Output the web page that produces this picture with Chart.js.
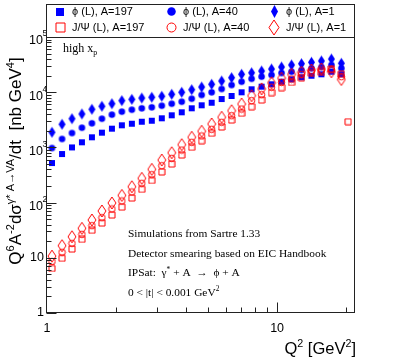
<!DOCTYPE html>
<html>
<head>
<meta charset="utf-8">
<script src="https://cdn.jsdelivr.net/npm/chart.js@4.4.0/dist/chart.umd.min.js"></script>
<style>html,body{margin:0;padding:0;background:#fff}</style>
</head>
<body>
<canvas id="plot" width="395" height="357"></canvas>
<script>
// Q^2 bin centres (log bins), last entry is the lone J/Psi A=197 point
const q2 = [1.051, 1.162, 1.284, 1.418, 1.567, 1.732, 1.914, 2.115, 2.337, 2.582,
            2.853, 3.153, 3.484, 3.850, 4.254, 4.701, 5.195, 5.740, 6.343, 7.009,
            7.745, 8.559, 9.457, 10.45, 11.55, 12.76, 14.10, 15.58, 17.22, 19.02, 20.35];

const phiA197 = [521, 759, 1000, 1237, 1524, 1848, 2183, 2513, 2686, 2922,
                 3047, 3365, 3815, 4325, 5110, 5790, 6450, 7530, 8540, 9960,
                 11300, 12600, 13900, 15500, 17100, 18600, 19900, 21100, 23500, 21100];
const phiA40  = [975, 1420, 1822, 2275, 2735, 3310, 3920, 4440, 4820, 5110,
                 5325, 5690, 6190, 6730, 7620, 8900, 9960, 11430, 13500, 15500,
                 17500, 19100, 20500, 22300, 23500, 25200, 27100, 28600, 31100, 27100];
const phiA1   = [1877, 2620, 3310, 4030, 4900, 5555, 6190, 7020, 7430, 7850,
                 8080, 8430, 9160, 9960, 11100, 12400, 13900, 15950, 18300, 21100,
                 22500, 24200, 26300, 28600, 31100, 32800, 34800, 36800, 39900, 33400];
const jpsiA197 = [6.4, 9.8, 14.4, 21.6, 31.5, 42.7, 59.6, 83, 121, 174,
                  252, 360, 500, 728, 1004, 1322, 1800, 2342, 3136, 4150,
                  5460, 7220, 9800, 12100, 15000, 18300, 22000, 22900, 26500, 21100, 2920];
const jpsiA40  = [8.6, 12.6, 18.3, 26.6, 38.2, 53.2, 76.6, 107, 156, 224,
                  320, 466, 634, 897, 1237, 1610, 2128, 2850, 3750, 4960,
                  7020, 9000, 12350, 15100, 17300, 21100, 24500, 25200, 25500, 19100];
const jpsiA1   = [10.7, 16.6, 24.1, 34.2, 48.4, 70.5, 98.4, 135, 194, 275,
                  400, 591, 802, 1120, 1524, 1958, 2655, 3510, 4620, 6110,
                  8650, 11500, 14800, 17900, 21000, 22900, 25200, 26300, 23500, 17000];

const xTicks = [1, 10];
const yExps = [0, 1, 2, 3, 4, 5];

const SANS = '"Liberation Sans", Arial, sans-serif';
const SERIF = '"Liberation Serif", "Times New Roman", serif';
const blue = '#0000ff', red = '#ff0000';

function marker(shape, filled, color, w, h) {
  const c = document.createElement('canvas');
  c.width = Math.ceil(w) + 2; c.height = Math.ceil(h) + 2;
  const g = c.getContext('2d');
  g.fillStyle = color; g.strokeStyle = color; g.lineWidth = 1;
  const cx = c.width / 2, cy = c.height / 2;
  g.beginPath();
  if (shape === 'square') g.rect(cx - w / 2, cy - h / 2, w, h);
  else if (shape === 'circle') g.arc(cx, cy, w / 2, 0, Math.PI * 2);
  else {
    g.moveTo(cx, cy - h / 2); g.lineTo(cx + w / 2, cy);
    g.lineTo(cx, cy + h / 2); g.lineTo(cx - w / 2, cy); g.closePath();
  }
  if (filled) g.fill(); else g.stroke();
  return c;
}

const series = [
  { label: 'ϕ (L), A=197',   data: phiA197,  color: blue, shape: 'square',  filled: true,  size: [6, 6],   leg: [8, 8] },
  { label: 'ϕ (L), A=40',    data: phiA40,   color: blue, shape: 'circle',  filled: true,  size: [6.5, 6.5], leg: [8.5, 8.5] },
  { label: 'ϕ (L), A=1',     data: phiA1,    color: blue, shape: 'diamond', filled: true,  size: [7, 11],  leg: [7, 13] },
  { label: 'J/Ψ (L), A=197', data: jpsiA197, color: red,  shape: 'square',  filled: false, size: [6, 6],   leg: [9, 9] },
  { label: 'J/Ψ (L), A=40',  data: jpsiA40,  color: red,  shape: 'circle',  filled: false, size: [6.5, 6.5], leg: [9, 9] },
  { label: 'J/Ψ (L), A=1',   data: jpsiA1,   color: red,  shape: 'diamond', filled: false, size: [8, 12],  leg: [10, 15] }
];

const datasets = series.map((s, i) => ({
  label: s.label,
  data: s.data.map((v, k) => ({ x: q2[k], y: v })),
  pointStyle: marker(s.shape, s.filled, s.color, s.size[0], s.size[1]),
  order: series.length - i,
  showLine: false
}));

function drawRich(ctx, parts, x, y, size, family, align) {
  const widths = parts.map(p => {
    ctx.font = (p[1] ? size * 0.65 : size) + 'px ' + family;
    return ctx.measureText(p[0]).width;
  });
  const total = widths.reduce((a, b) => a + b, 0);
  let cx = align === 'center' ? x - total / 2 : align === 'right' ? x - total : x;
  ctx.textAlign = 'left';
  parts.forEach((p, i) => {
    ctx.font = (p[1] ? size * 0.65 : size) + 'px ' + family;
    const dy = p[1] === 1 ? -size * 0.42 : p[1] === -1 ? size * 0.25 : 0;
    ctx.fillText(p[0], cx, y + dy);
    cx += widths[i];
  });
}

const rootAxes = {
  id: 'rootAxes',
  afterDraw(chart) {
    const ctx = chart.ctx, a = chart.chartArea;
    const xs = chart.scales.x, ys = chart.scales.y;
    ctx.save();
    ctx.strokeStyle = '#222'; ctx.lineWidth = 1;
    const L = Math.round(a.left) - 0.5, R = Math.round(a.right) - 0.5;
    const T = Math.round(a.top) + 0.5, B = Math.round(a.bottom) - 0.5;
    ctx.strokeRect(L, T, R - L, B - T);

    // ticks, drawn inside the frame
    ctx.beginPath();
    for (const v of [2, 3, 4, 5, 6, 7, 8, 9, 10, 20]) {
      const px = Math.round(xs.getPixelForValue(v)) + 0.5;
      ctx.moveTo(px, B); ctx.lineTo(px, B - (v === 10 ? 10 : 5));
    }
    for (let e = 0; e < 5; e++) {
      for (let m = 1; m <= 9; m++) {
        const py = Math.round(ys.getPixelForValue(m * Math.pow(10, e))) + 0.5;
        ctx.moveTo(L, py); ctx.lineTo(L + (m === 1 ? 10 : 5), py);
      }
    }
    ctx.stroke();

    // tick labels
    ctx.fillStyle = '#000';
    ctx.textBaseline = 'middle';
    ctx.font = '12.5px ' + SANS; ctx.textAlign = 'center';
    xTicks.forEach(v => ctx.fillText(String(v), xs.getPixelForValue(v), 329));
    yExps.forEach(e => {
      const py = ys.getPixelForValue(Math.pow(10, e));
      ctx.font = '12.5px ' + SANS;
      if (e === 0) { ctx.textAlign = 'right'; ctx.fillText('1', 44, py); }
      else if (e === 1) { ctx.textAlign = 'right'; ctx.fillText('10', 44, py); }
      else {
        ctx.textAlign = 'right'; ctx.fillText('10', 43, py + 4);
        ctx.font = '8.5px ' + SANS; ctx.textAlign = 'left';
        ctx.fillText(String(e), 42.5, py - 3);
      }
    });

    // axis titles
    ctx.textBaseline = 'alphabetic';
    drawRich(ctx, [['Q', 0], ['2', 1], [' [GeV', 0], ['2', 1], [']', 0]], 356, 354, 16.5, SANS, 'right');
    ctx.save();
    ctx.translate(21, 161); ctx.rotate(-Math.PI / 2);
    drawRich(ctx, [['Q', 0], ['6', 1], ['A', 0], ['-2', 1], ['dσ', 0], ['γ* A→VA', 1],
                   ['/dt  [nb GeV', 0], ['4', 1], [']', 0]], 0, 0, 17, SANS, 'center');
    ctx.restore();

    // annotations
    drawRich(ctx, [['high x', 0], ['p', -1]], 63, 52, 12, SERIF, 'left');
    const notes = [
      [['Simulations from Sartre 1.33', 0]],
      [['Detector smearing based on EIC Handbook', 0]],
      [['IPSat:  γ', 0], ['*', 1], [' + A  →  ϕ + A', 0]],
      [['0 < |t| < 0.001 GeV', 0], ['2', 1]]
    ];
    notes.forEach((n, i) => drawRich(ctx, n, 128, 237 + i * 19.7, 11.4, SERIF, 'left'));

    // legend box
    ctx.strokeStyle = '#222';
    ctx.strokeRect(L, 4.5, R - L, T - 4.5);
    const colX = [60, 171, 274], rowY = [11.5, 27.5];
    ctx.textBaseline = 'middle'; ctx.textAlign = 'left'; ctx.font = '11px ' + SANS;
    series.forEach((s, i) => {
      const cx = colX[i % 3], cy = rowY[Math.floor(i / 3)];
      const img = marker(s.shape, s.filled, s.color, s.leg[0], s.leg[1]);
      ctx.drawImage(img, Math.round(cx - img.width / 2), Math.round(cy - img.height / 2));
      ctx.fillStyle = '#000';
      ctx.fillText(s.label, cx + 12, cy);
    });
    ctx.restore();
  }
};

new Chart(document.getElementById('plot'), {
  type: 'scatter',
  data: { datasets: datasets },
  options: {
    responsive: false,
    animation: false,
    layout: { padding: { left: 47, right: 40, top: 37, bottom: 44 } },
    plugins: { legend: { display: false }, tooltip: { enabled: false } },
    scales: {
      x: { type: 'logarithmic', min: 1, max: 21.8, display: false },
      y: { type: 'logarithmic', min: 1, max: 100000, display: false }
    }
  },
  plugins: [rootAxes]
});
</script>
</body>
</html>
